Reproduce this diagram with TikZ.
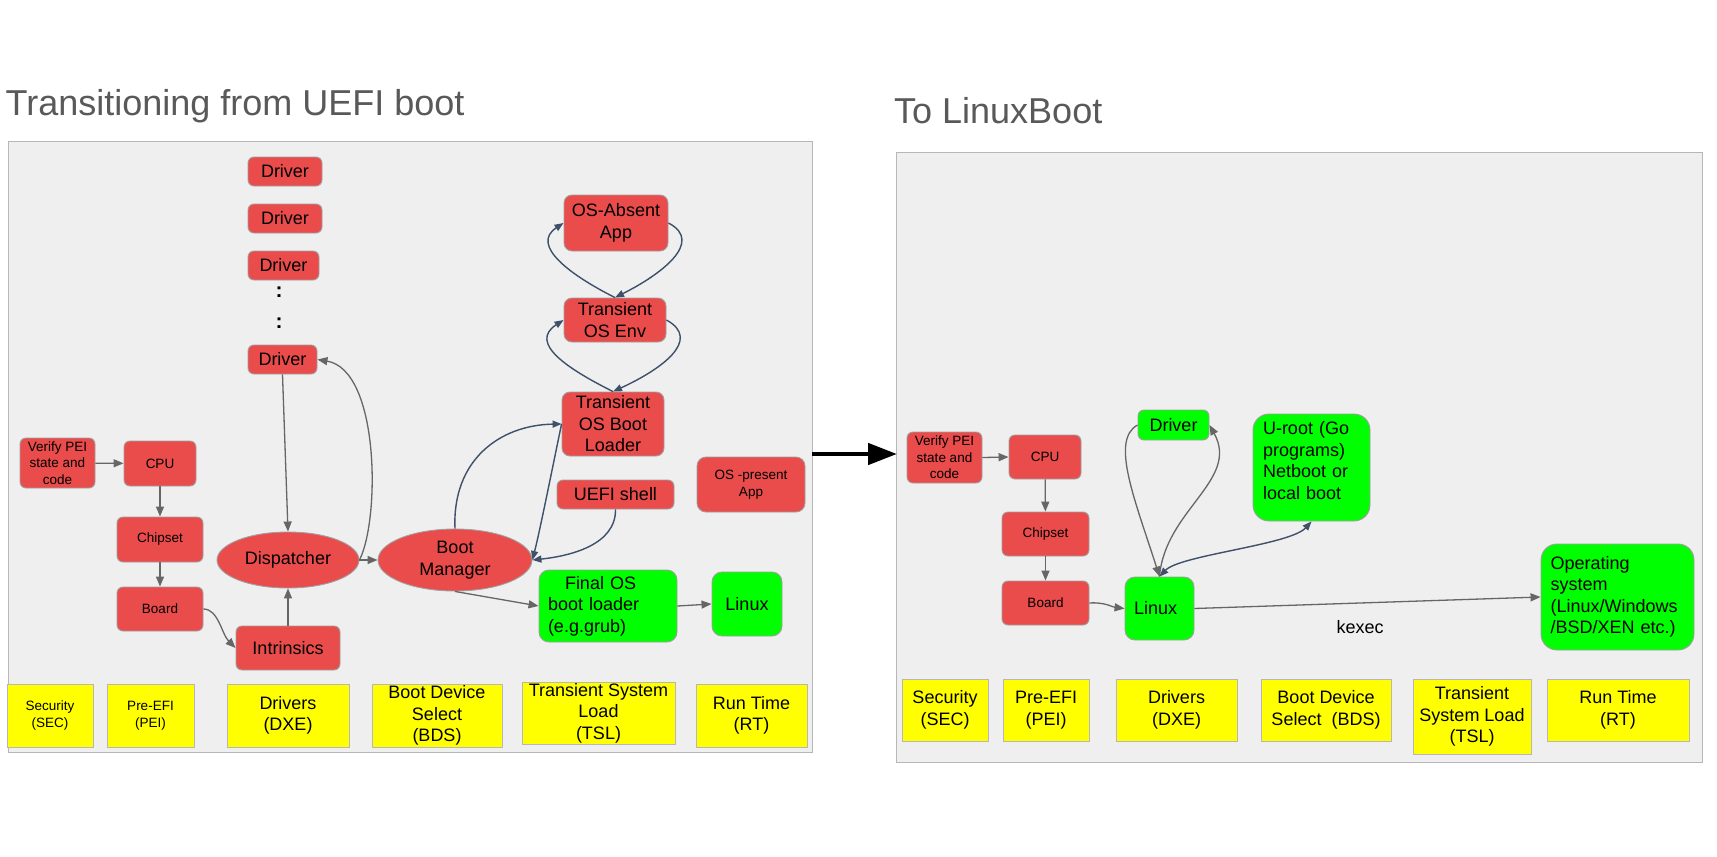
\documentclass[tikz,border=0pt]{standalone}
\usepackage{fontspec}
\setmainfont{Liberation Sans}
\usetikzlibrary{arrows.meta,shapes.geometric}
\definecolor{boxred}{RGB}{234,75,75}
\definecolor{boxgreen}{RGB}{0,255,0}
\definecolor{boxyellow}{RGB}{255,255,0}
\definecolor{framefill}{RGB}{239,239,239}
\definecolor{framedraw}{RGB}{183,183,183}
\definecolor{edgegray}{RGB}{160,160,160}
\definecolor{arrgray}{RGB}{102,102,102}
\definecolor{arrblue}{RGB}{62,80,106}
\definecolor{titlegray}{RGB}{89,89,89}
\begin{document}
\begin{tikzpicture}[x=1pt,y=-1pt,
  fsbig/.style={font=\fontsize{18}{21.5}\selectfont},
  fssmall/.style={font=\fontsize{13.5}{16.5}\selectfont},
  bx/.style={draw=edgegray, line width=0.9pt, inner sep=0pt, align=center, text=black},
  redbox/.style={bx, fill=boxred, rounded corners=6pt},
  greenbox/.style={bx, fill=boxgreen, rounded corners=10pt},
  yelbox/.style={bx, fill=boxyellow, draw=framedraw},
  redell/.style={bx, fill=boxred, ellipse},
  framebox/.style={fill=framefill, draw=framedraw, line width=1.2pt, inner sep=0pt, anchor=north west},
  sz/.style 2 args={minimum width=#1, minimum height=#2},
  arr/.style={draw=arrgray, line width=1.3pt, -{Triangle[length=10pt,width=8pt]}},
  barr/.style={draw=arrblue, line width=1.4pt, -{Triangle[length=9pt,width=7pt]}},
  bigarrow/.style={draw=black, line width=4.7pt, -{Triangle[length=29pt,width=21pt]}},
  titletext/.style={anchor=base west, inner sep=0pt, text=titlegray, font=\fontsize{36}{40}\selectfont},
]
\fill[white] (0,0) rectangle (1717,857);
\useasboundingbox (0,0) rectangle (1717,857);

% frames and titles
\node[framebox, sz={804.3}{611}] (frameL) at (7.7,141) {};
\node[framebox, sz={806}{610}] (frameR) at (896,152) {};
\node[titletext] (titleL) at (5.5,115) {Transitioning from UEFI boot};
\node[titletext] (titleR) at (894,123) {To LinuxBoot};

% ---------- left: UEFI ----------
\node[redbox, fssmall, sz={75}{50}] (verL) at (57.5,463) {Verify PEI\\state and\\code};
\node[redbox, fssmall, sz={72}{45}] (cpuL) at (160,463.5) {CPU};
\node[redbox, fssmall, sz={86}{45}] (chipL) at (160,539.5) {Chipset};
\node[redbox, fssmall, sz={86}{44}] (boardL) at (160,609) {Board};
\node[redell, fsbig, sz={142}{56}] (disp) at (288,560) {Dispatcher};
\node[redbox, fsbig, sz={104}{44}] (intr) at (288,648) {Intrinsics};
\node[redbox, fsbig, sz={74}{29}] (drv1) at (285,171.5) {Driver};
\node[redbox, fsbig, sz={74}{29}] (drv2) at (285,218.5) {Driver};
\node[redbox, fsbig, sz={71}{29}] (drv3) at (283.5,265.5) {Driver};
\node[inner sep=0pt, font=\fontsize{21}{24}\selectfont\bfseries] (dots1) at (279,292.5) {:};
\node[inner sep=0pt, font=\fontsize{21}{24}\selectfont\bfseries] (dots2) at (279,323.5) {:};
\node[redbox, fsbig, sz={69}{29}] (drv4) at (282.5,359.5) {Driver};
\node[redell, fsbig, sz={154}{62}] (bm) at (455,560) {Boot\\Manager};
\node[redbox, fsbig, sz={104}{56}, rounded corners=8pt] (osabs) at (616,223) {OS-Absent\\App};
\node[redbox, fsbig, sz={102}{44}, rounded corners=8pt] (tenv) at (615,320) {Transient\\OS Env};
\node[redbox, fsbig, sz={102}{64}, rounded corners=8pt] (tldr) at (613,424) {Transient\\OS Boot\\Loader};
\node[redbox, fsbig, sz={117}{29}] (uefi) at (615.5,494.5) {UEFI shell};
\node[redbox, fssmall, sz={108}{55}, rounded corners=9pt] (ospres) at (751,484.5) {OS -present\\App};
\node[greenbox, fsbig, sz={138}{72}, text width=120pt, align=left] (final) at (608,606) {\hspace*{17pt}Final OS\\boot loader\\(e.g.grub)};
\node[greenbox, fsbig, sz={70}{64}] (linL) at (747,604) {Linux};

\node[yelbox, fssmall, sz={86}{63}] (secL) at (50,715.5) {Security\\(SEC)};
\node[yelbox, fssmall, sz={87}{63}] (peiL) at (150.5,715.5) {Pre-EFI\\(PEI)};
\node[yelbox, fsbig, sz={122}{63}] (dxeL) at (288,715.5) {Drivers\\(DXE)};
\node[yelbox, fsbig, sz={130}{63}] (bdsL) at (437,715.5) {Boot Device\\Select\\(BDS)};
\node[yelbox, fsbig, sz={153}{62}] (tslL) at (598.5,713) {Transient System\\Load\\(TSL)};
\node[yelbox, fsbig, sz={111}{63}] (rtL) at (751.5,715.5) {Run Time\\(RT)};

\draw[arr] (verL) -- (cpuL);
\draw[arr] (cpuL) -- (chipL);
\draw[arr] (chipL) -- (boardL);
\draw[arr] (boardL.east) .. controls +(15,0) and +(-14,-14) .. (intr.west);
\draw[arr] (intr) -- (disp);
\draw[arr] (drv4.south) -- (disp.north);
\draw[arr] (disp.east) .. controls (380,520) and (380,370) .. (drv4.east);
\draw[arr] (disp.east) -- (bm.west);
\draw[barr] (bm.north) .. controls (452,460) and (500,425) .. (tldr.west);
\draw[barr] (tldr.west) .. controls (552,470) and (540,530) .. (bm.east);
\draw[barr] (uefi.south) .. controls (616,545) and (570,556) .. (bm.east);
\draw[arr] (bm.south) -- (final.west);
\draw[arr] (final.east) -- (linL.west);
\draw[barr] (tenv.north) .. controls (570,275) and (530,245) .. (osabs.west);
\draw[barr] (osabs.east) .. controls (705,242) and (660,275) .. (tenv.north);
\draw[barr] (tldr.north) .. controls (568,369) and (528,343) .. (tenv.west);
\draw[barr] (tenv.east) .. controls (703,340) and (660,370) .. (tldr.north);

% big arrow
\coordinate (bigS) at (812,454);
\coordinate (bigE) at (897,454);
\draw[bigarrow] (bigS) -- (bigE);

% ---------- right: LinuxBoot ----------
\node[redbox, fssmall, sz={75}{51}] (verR) at (944.5,457.5) {Verify PEI\\state and\\code};
\node[redbox, fssmall, sz={72}{44}] (cpuR) at (1045,457) {CPU};
\node[redbox, fssmall, sz={87}{44}] (chipR) at (1045.5,534) {Chipset};
\node[redbox, fssmall, sz={87}{44}] (boardR) at (1045.5,603) {Board};
\node[greenbox, fsbig, sz={71}{30}, rounded corners=6pt] (drvR) at (1173.5,425) {Driver};
\node[greenbox, sz={117}{107}, rounded corners=16pt,
  label={[fsbig, align=left, text width=97pt, inner sep=0pt, yshift=7pt]center:{U-root (Go\\programs)\\Netboot or\\local boot}}] (uroot) at (1311.5,467.5) {};
\node[greenbox, fsbig, sz={69}{63}, text width=51pt, align=left] (linR) at (1159.5,608.5) {Linux};
\node[greenbox, fsbig, sz={153}{106}, rounded corners=16pt, text width=134pt, align=left] (os) at (1617.5,597) {Operating\\system\\(Linux/Windows\\/BSD/XEN etc.)};
\node[fsbig, inner sep=0pt] (kexec) at (1360,627) {kexec};

\node[yelbox, fsbig, sz={86}{62}] (secR) at (945,710) {Security\\(SEC)};
\node[yelbox, fsbig, sz={86}{62}] (peiR) at (1046,710) {Pre-EFI\\(PEI)};
\node[yelbox, fsbig, sz={121}{62}] (dxeR) at (1176.5,710) {Drivers\\(DXE)};
\node[yelbox, fsbig, sz={130}{62}] (bdsR) at (1326,710) {Boot Device\\Select~~(BDS)};
\node[yelbox, fsbig, sz={118}{75}] (tslR) at (1472,716.5) {Transient\\System Load\\(TSL)};
\node[yelbox, fsbig, sz={142}{62}] (rtR) at (1618,710) {Run Time\\(RT)};

\draw[arr] (verR.east) -- (cpuR.west);
\draw[arr] (cpuR) -- (chipR);
\draw[arr] (chipR) -- (boardR);
\draw[arr] (boardR.east) .. controls (1105,602) and (1112,607) .. (linR.west);
\draw[arr] (drvR.west) .. controls (1110,440) and (1135,500) .. (linR.north);
\draw[arr] (linR.north) .. controls (1165,510) and (1240,480) .. (drvR.east);
\draw[barr, {Triangle[length=9pt,width=7pt]}-{Triangle[length=9pt,width=7pt]}] (linR.north) .. controls (1180,555) and (1290,545) .. (uroot.south);
\draw[arr] (linR.east) -- (os.west);
\end{tikzpicture}
\end{document}
